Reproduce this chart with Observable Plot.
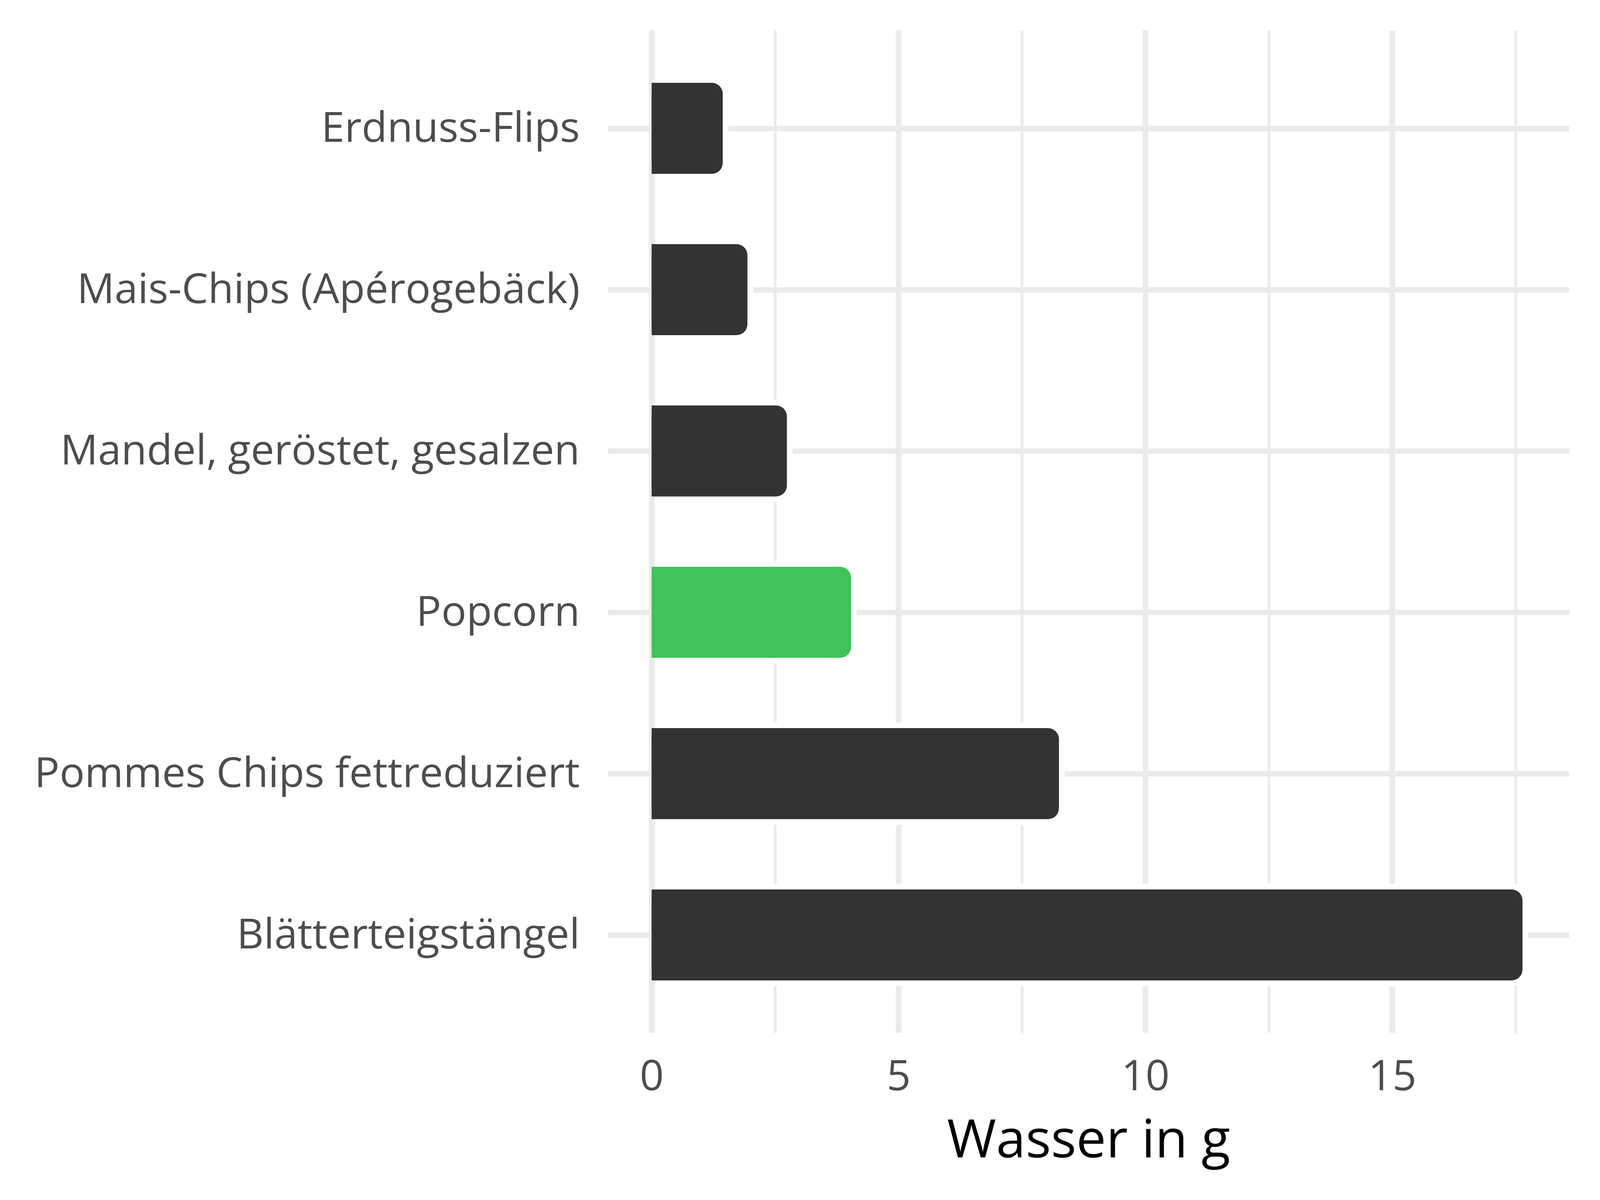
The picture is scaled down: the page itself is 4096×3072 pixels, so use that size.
<!DOCTYPE html>
<html>
<head>
<meta charset="utf-8">
<script src="https://cdn.jsdelivr.net/npm/d3@7"></script>
<script src="https://cdn.jsdelivr.net/npm/@observablehq/plot@0.6"></script>
<style>
  html, body { margin: 0; padding: 0; background: #ffffff; }
  svg { display: block; }
</style>
</head>
<body>
<div id="chart"></div>
<script>
const categories = [
  "Erdnuss-Flips",
  "Mais-Chips (Apérogebäck)",
  "Mandel, geröstet, gesalzen",
  "Popcorn",
  "Pommes Chips fettreduziert",
  "Blätterteigstängel"
];
const values = [1.44, 1.94, 2.74, 4.04, 8.25, 17.64];
const highlighted = ["Popcorn"];
const majorTicks = [0, 5, 10, 15];
const minorTicks = [2.5, 7.5, 12.5, 17.5];
const xLabel = "Wasser in g";

const data = categories.map((c, i) => ({name: c, value: values[i], hl: highlighted.includes(c)}));

const dark = "#333333";
const green = "#3EC35A";
const gridColor = "#EBEBEB";

const chart = Plot.plot({
  width: 4096,
  height: 3072,
  marginLeft: 1556,
  marginRight: 79,
  marginTop: 78,
  marginBottom: 428,
  style: {fontFamily: "'Open Sans', sans-serif", background: "#ffffff"},
  x: {domain: [-0.888, 18.585]},
  y: {domain: categories, type: "band", paddingInner: 0.435, paddingOuter: 0.3175},
  marks: [
    Plot.gridX(minorTicks, {stroke: gridColor, strokeOpacity: 1, strokeWidth: 6.8}),
    Plot.gridX(majorTicks, {stroke: gridColor, strokeOpacity: 1, strokeWidth: 14.5}),
    Plot.gridY({stroke: gridColor, strokeOpacity: 1, strokeWidth: 14.2}),
    // white halo around bars
    Plot.barX(data, {x1: 0, x2: "value", y: "name", fill: "#ffffff", rx: 42,
      insetTop: -14.5, insetBottom: -14.5, insetRight: -14.5, insetLeft: 0}),
    // rounded bars
    Plot.barX(data, {x1: 0, x2: "value", y: "name", fill: d => d.hl ? green : dark, rx: 28}),
    // square left ends
    Plot.barX(data, {x1: 0, x2: "value", y: "name", fill: d => d.hl ? green : dark, insetRight: 28}),
    Plot.axisY({tickSize: 0, tickPadding: 72, fontSize: 107, color: "#4D4D4D", label: null}),
    Plot.axisX(majorTicks, {tickSize: 0, tickPadding: 70, fontSize: 108, color: "#4D4D4D", label: null,
      tickFormat: d => String(d)}),
    Plot.text([xLabel], {text: d => d, frameAnchor: "bottom", fontSize: 136, fill: "#000000",
      dy: 318, lineAnchor: "bottom"})
  ]
});
document.getElementById("chart").appendChild(chart);
</script>
</body>
</html>
